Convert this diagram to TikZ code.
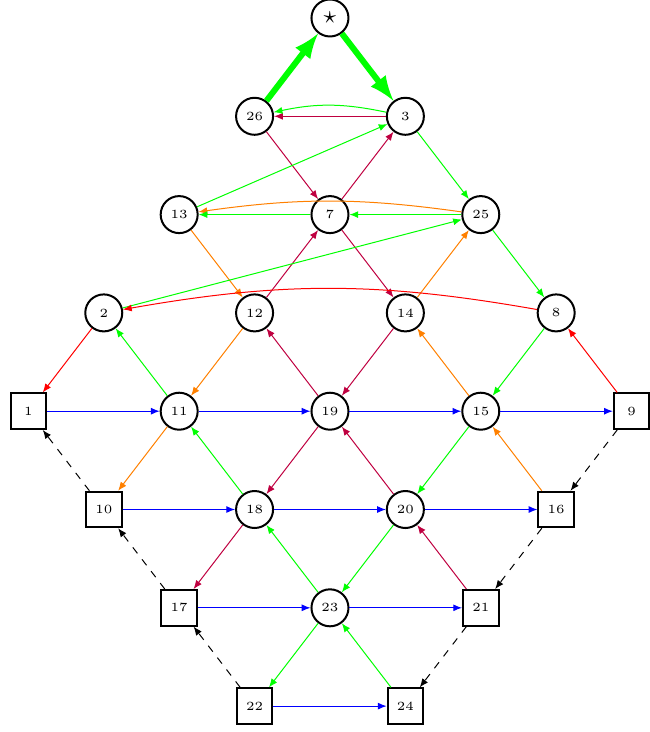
\documentclass[tikz,border=0pt]{standalone}
\usetikzlibrary{arrows.meta,positioning}

\begin{document}
\begin{tikzpicture}[
	node distance = 1.382cm and 1.06cm, on grid,
	every node/.style = {font=\tiny},
	Circ/.style = {circle, draw, thick, minimum size=14.8pt, inner sep=0pt},
	Box/.style  = {rectangle, draw, thick, minimum size=14.2pt, inner sep=0pt},
	Line/.style = {-{Latex[length=3.5pt, width=2.8pt]}, color=#1},
	Dash/.style = {Line=black, dashed},
	Big/.style  = {-latex, green, line width=2.4pt}
]
\useasboundingbox (-4.639,0.253) rectangle ++(9.138,-10.291);
\node[Circ, font=\normalsize] (star) at (0,0) {$\star$};
\node[Circ, below left=of star]  (26) {26};
\node[Circ, below right=of star] (3)  {3};
\node[Circ, below left=of 26]    (13) {13};
\node[Circ, below right=of 26]   (7)  {7};
\node[Circ, below right=of 3]    (25) {25};
\node[Circ, below left=of 13]    (2)  {2};
\node[Circ, below right=of 13]   (12) {12};
\node[Circ, below right=of 7]    (14) {14};
\node[Circ, below right=of 25]   (8)  {8};
\node[Box,  below left=of 2]     (1)  {1};
\node[Circ, below right=of 2]    (11) {11};
\node[Circ, below right=of 12]   (19) {19};
\node[Circ, below right=of 14]   (15) {15};
\node[Box,  below right=of 8]    (9)  {9};
\node[Box,  below right=of 1]    (10) {10};
\node[Circ, below right=of 11]   (18) {18};
\node[Circ, below right=of 19]   (20) {20};
\node[Box,  below right=of 15]   (16) {16};
\node[Box,  below right=of 10]   (17) {17};
\node[Circ, below right=of 18]   (23) {23};
\node[Box,  below right=of 20]   (21) {21};
\node[Box,  below right=of 17]   (22) {22};
\node[Box,  below right=of 23]   (24) {24};

\draw[Big] (26) -- (star);
\draw[Big] (star) -- (3);
\draw[Line=purple] (3) -- (26);
\draw[Line=green] (3) to[bend right=12] (26);
\draw[Line=purple] (26) -- (7);
\draw[Line=purple] (7) -- (3);
\draw[Line=green] (3) -- (25);
\draw[Line=green] (13) -- (3);
\draw[Line=orange] (25) to[bend right=8] (13);
\draw[Line=green] (7) -- (13);
\draw[Line=green] (25) -- (7);
\draw[Line=orange] (13) -- (12);
\draw[Line=purple] (12) -- (7);
\draw[Line=purple] (7) -- (14);
\draw[Line=orange] (14) -- (25);
\draw[Line=green] (25) -- (8);
\draw[Line=green] (2) -- (25);
\draw[Line=red] (8) to[bend right=10] (2);
\draw[Line=red] (2) -- (1);
\draw[Line=green] (11) -- (2);
\draw[Line=orange] (12) -- (11);
\draw[Line=purple] (19) -- (12);
\draw[Line=purple] (14) -- (19);
\draw[Line=orange] (15) -- (14);
\draw[Line=green] (8) -- (15);
\draw[Line=red] (9) -- (8);
\draw[Line=blue] (1) -- (11);
\draw[Line=blue] (11) -- (19);
\draw[Line=blue] (19) -- (15);
\draw[Line=blue] (15) -- (9);
\draw[Line=orange] (11) -- (10);
\draw[Line=green] (18) -- (11);
\draw[Line=purple] (19) -- (18);
\draw[Line=purple] (20) -- (19);
\draw[Line=green] (15) -- (20);
\draw[Line=orange] (16) -- (15);
\draw[Line=blue] (10) -- (18);
\draw[Line=blue] (18) -- (20);
\draw[Line=blue] (20) -- (16);
\draw[Line=purple] (18) -- (17);
\draw[Line=green] (23) -- (18);
\draw[Line=green] (20) -- (23);
\draw[Line=purple] (21) -- (20);
\draw[Line=blue] (17) -- (23);
\draw[Line=blue] (23) -- (21);
\draw[Line=green] (23) -- (22);
\draw[Line=green] (24) -- (23);
\draw[Line=blue] (22) -- (24);
\draw[Dash] (10) -- (1);
\draw[Dash] (17) -- (10);
\draw[Dash] (22) -- (17);
\draw[Dash] (9) -- (16);
\draw[Dash] (16) -- (21);
\draw[Dash] (21) -- (24);
\end{tikzpicture}
\end{document}
